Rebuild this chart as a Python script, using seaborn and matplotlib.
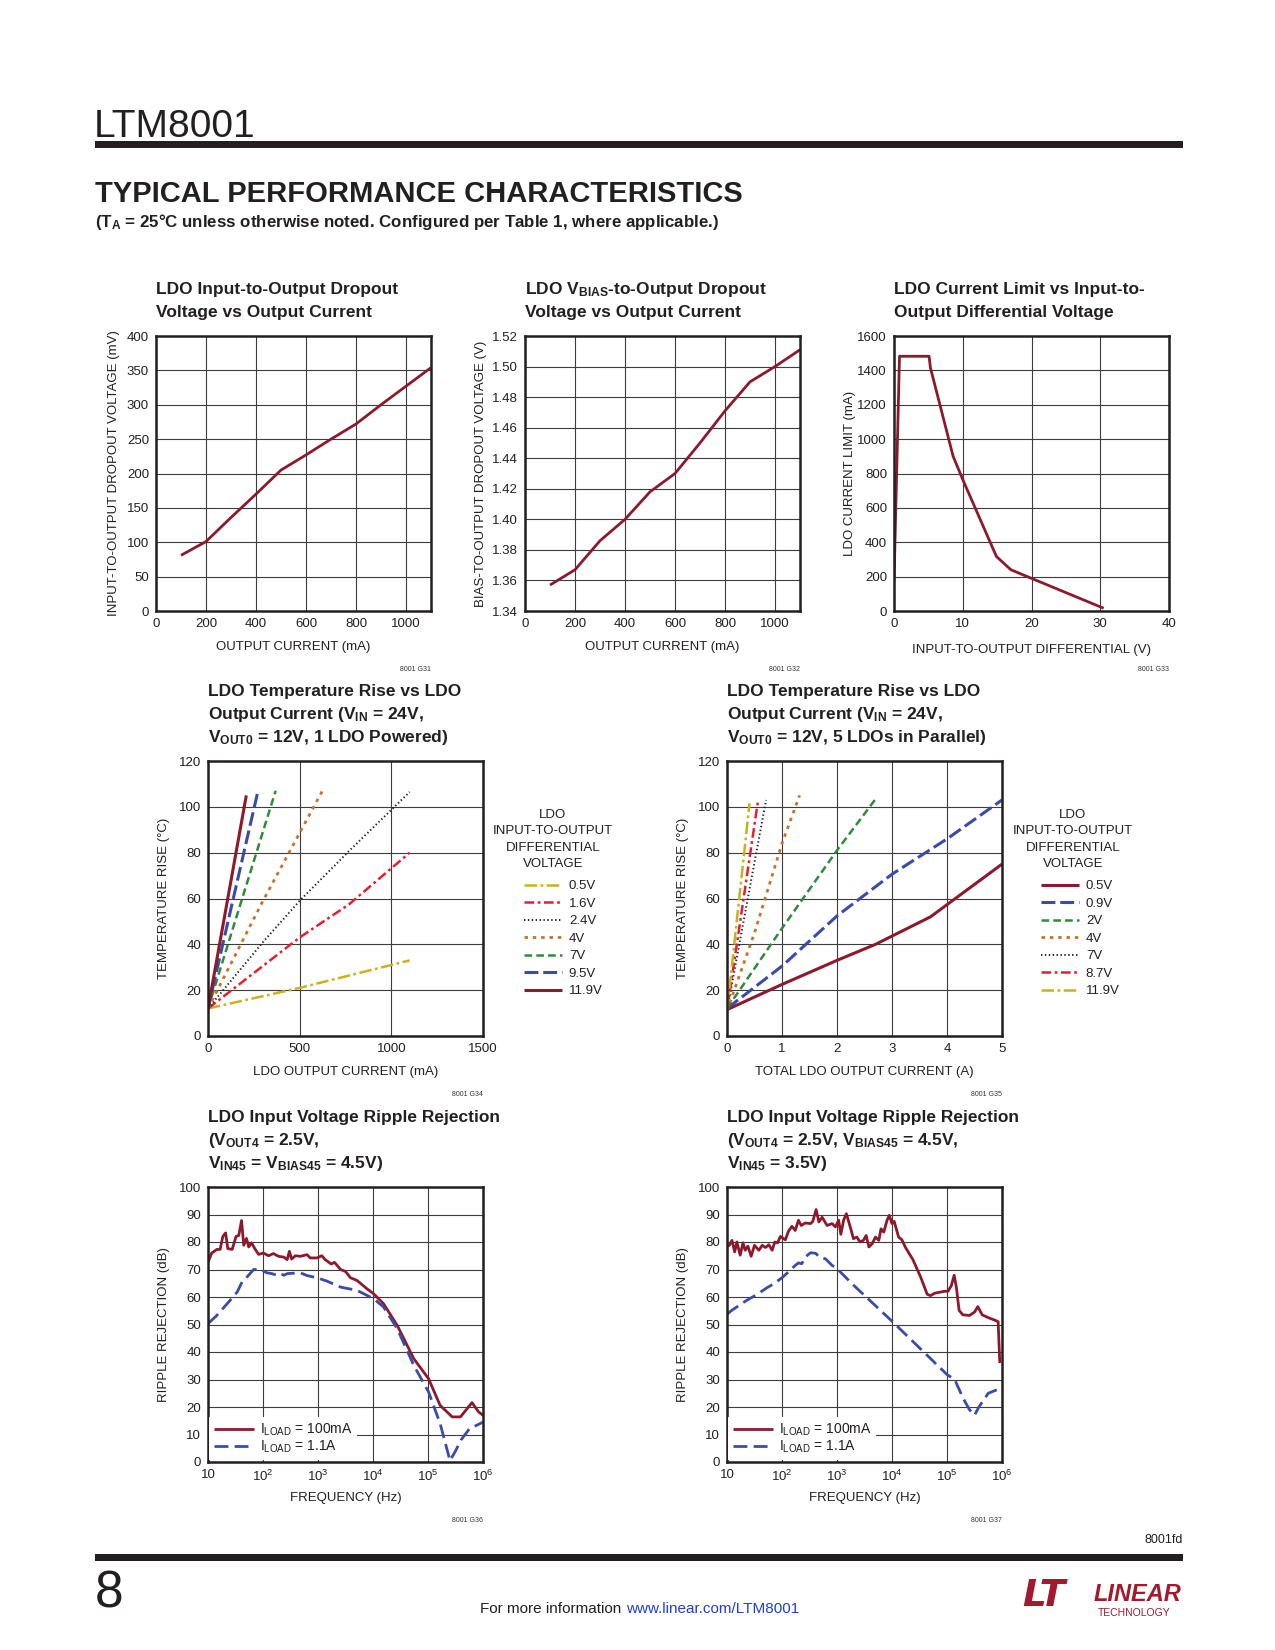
import matplotlib
matplotlib.use("Agg")
import matplotlib.pyplot as plt
import seaborn as sns
from matplotlib import font_manager as fm
from matplotlib.patches import Rectangle
from matplotlib.ticker import FixedLocator, NullLocator

# ---------------- data ----------------
dropout_current = [100, 200, 300, 400, 500, 600, 700, 800, 900, 1000, 1100]
dropout_mv = [81, 101, 136, 170, 205, 227, 250, 272, 300, 327, 354]

bias_current = [100, 200, 300, 400, 500, 600, 700, 800, 900, 1000, 1100]
bias_dropout_v = [1.357, 1.367, 1.386, 1.400, 1.418, 1.430, 1.450, 1.471, 1.490, 1.500, 1.511]

climit_vdiff = [0, 0.8, 5.1, 5.3, 8.6, 10, 14.9, 17, 20, 30.5]
climit_ma = [170, 1482, 1482, 1415, 900, 765, 317, 240, 190, 16]

# 1 LDO powered: output current (mA) vs temperature rise (C)
t1_labels = ["0.5V", "1.6V", "2.4V", "4V", "7V", "9.5V", "11.9V"]
t1_05_x = [0, 500, 1100];              t1_05_y = [12, 21, 33]
t1_16_x = [0, 500, 770, 1100];         t1_16_y = [12, 43, 57.5, 80]
t1_24_x = [0, 300, 500, 773, 1100];    t1_24_y = [12, 41, 59, 81, 106.5]
t1_4_x = [0, 300, 624];                t1_4_y = [12, 59, 107]
t1_7_x = [0, 369];                     t1_7_y = [12, 107]
t1_95_x = [0, 273];                    t1_95_y = [12, 107]
t1_119_x = [0, 209];                   t1_119_y = [12, 105]

# 5 LDOs in parallel: total output current (A) vs temperature rise (C)
t5_labels = ["0.5V", "0.9V", "2V", "4V", "7V", "8.7V", "11.9V"]
t5_05_x = [0, 1, 2, 2.7, 3.7, 5];      t5_05_y = [11.5, 22.5, 33, 40, 52, 75]
t5_09_x = [0, 1, 2, 3, 4, 5];          t5_09_y = [12, 30.5, 52.4, 70.6, 86, 103]
t5_2_x = [0, 1, 2, 2.72];              t5_2_y = [12, 47, 81, 104]
t5_4_x = [0, 0.5, 1, 1.32];            t5_4_y = [11, 45, 84, 105]
t5_7_x = [0, 0.71];                    t5_7_y = [11, 103]
t5_87_x = [0, 0.56];                   t5_87_y = [11, 102]
t5_119_x = [0, 0.41];                  t5_119_y = [11, 101.5]

# ripple rejection, chart G36
r1_100_f = [10, 11.7, 14.5, 16.6, 18.6, 20.9, 22.9, 27.5, 32.4, 36.3, 40.7, 44.7, 50.1, 55,
            61.7, 72.4, 83.2, 102, 126, 155, 191, 240, 275, 302, 331, 389, 479, 631, 724,
            955, 1175, 1349, 1738, 1995, 2570, 3162, 3890, 5129, 7762, 10230, 15490, 27540,
            54950, 102300, 166000, 275400, 389000, 631000, 831800, 1000000]
r1_100_db = [72.7, 76, 77.3, 77.3, 82, 83.3, 77.6, 77.3, 82, 82.4, 87.8, 78.8, 81.3, 78.2,
             79.7, 77.3, 75.5, 76, 75, 75.8, 74.8, 74.5, 73.6, 76.6, 73.8, 75, 74.8, 75.4,
             74.2, 74.2, 75, 73.6, 72, 72.6, 70, 69.3, 67, 66, 63, 61.2, 57.6, 49.7, 37.6,
             30.3, 20.6, 16.4, 16.4, 21.6, 18.2, 17]
r1_11_f = [10, 14.5, 22.4, 33.9, 41.7, 51.3, 67.6, 89.1, 117.5, 144.5, 177.8, 208.9, 239.9,
           275.4, 478.6, 631, 955, 1445, 2570, 5129, 10230, 15490, 27540, 54950, 102300,
           166000, 251200, 316200, 398100, 562300, 1000000]
r1_11_db = [50.3, 53.3, 57.6, 61.8, 65.5, 67.3, 70, 70, 68.8, 68.5, 67.9, 68.5, 67.9, 68.5,
            68.8, 67.8, 67, 65.8, 63.6, 62.4, 59.4, 56.4, 48.5, 35.2, 25.5, 14, 0.5, 4, 8,
            12, 14.5]

# ripple rejection, chart G37
r2_100_f = [10, 11, 12.3, 13.8, 15.1, 17.4, 19.5, 21.4, 24, 27.5, 31.6, 38, 43.7, 50.1, 57.5,
            66.1, 74.1, 83.2, 93.3, 114.8, 131.8, 151.4, 173.8, 199.5, 223.9, 263, 331, 363,
            417, 468, 537, 661, 813, 933, 1072, 1175, 1318, 1479, 1738, 1995, 2291, 2630,
            3020, 3388, 3802, 4365, 5012, 5754, 6310, 7079, 8128, 8913, 10000, 10960, 13180,
            15140, 17380, 23990, 33110, 43650, 50120, 60260, 91200, 104700, 120200, 134900,
            147900, 166000, 195000, 257000, 316000, 363100, 436500, 562300, 758600, 851100,
            912000]
r2_100_db = [78.4, 78.8, 80.6, 76.4, 80, 75.2, 79.7, 77, 78.5, 74.8, 78.8, 77, 78.8, 78, 79,
             77, 80, 79.7, 82, 80.8, 84, 85.7, 84.2, 87.9, 86, 86.9, 86.7, 87.5, 91.8, 87.3,
             89, 86, 86.7, 85.5, 87.9, 82.8, 87.9, 90.3, 85.5, 81.2, 81.8, 80, 80.6, 82.4,
             78.2, 79.4, 81.8, 80.6, 84.8, 83.6, 87.9, 89.7, 86.7, 87.5, 81.8, 80.8, 78.2,
             73.6, 67.3, 61, 60.5, 61.4, 62.1, 62.1, 64.2, 67.9, 63.6, 55.1, 53.5, 53.3, 54.5,
             56.5, 53.5, 52.5, 51.5, 51, 36]
r2_11_f = [10, 12.3, 15.1, 22.9, 35.5, 53.7, 70.8, 100, 141, 174, 200, 229, 263, 331, 407,
           501, 617, 813, 1000, 1950, 10000, 31620, 100000, 138000, 195000, 257000, 316000,
           380000, 562000, 1000000]
r2_11_db = [53.7, 55.2, 56.4, 58.8, 61, 63.4, 64.8, 67, 69.7, 71.5, 72.4, 72.1, 74.5, 76.1,
            75.9, 74.2, 73.9, 71.5, 70.3, 64.5, 51.2, 41.5, 31.8, 30, 23.3, 19, 17, 20, 25, 27]

ripple_labels = ["I$_{\\mathregular{LOAD}}$ = 100mA", "I$_{\\mathregular{LOAD}}$ = 1.1A"]
freq_ticks = [10, 100, 1000, 10000, 100000, 1000000]
freq_ticklabels = ["10", "$\\mathregular{10^{2}}$", "$\\mathregular{10^{3}}$",
                   "$\\mathregular{10^{4}}$", "$\\mathregular{10^{5}}$", "$\\mathregular{10^{6}}$"]

# ---------------- style ----------------
sns.set_style("white")
names = {f.name for f in fm.fontManager.ttflist}
NARROW = "Liberation Sans Narrow" if "Liberation Sans Narrow" in names else "Liberation Sans"
plt.rcParams["font.family"] = [NARROW, "DejaVu Sans"]
plt.rcParams["mathtext.fontset"] = "custom"
plt.rcParams["mathtext.rm"] = NARROW
plt.rcParams["mathtext.bf"] = NARROW + ":bold"
plt.rcParams["mathtext.it"] = NARROW + ":italic"
plt.rcParams["lines.scale_dashes"] = False
plt.rcParams["lines.solid_capstyle"] = "butt"
plt.rcParams["lines.dash_capstyle"] = "butt"

INK = "#231f20"
DRED = "#8c1a2c"
BLUE = "#3a4ca8"
GREEN = "#2f8a3c"
ORANGE = "#c07430"
BLACK = "#222222"
RED = "#e3202f"
YELLOW = "#c9b21f"

W, H = 1275, 1650
fig = plt.figure(figsize=(W / 100, H / 100), dpi=100)
fig.patch.set_facecolor("white")


def fx(x):
    return x / W


def fy(y):
    return 1 - y / H


def make_ax(left, top, w=275, h=275):
    ax = fig.add_axes([fx(left), fy(top + h), w / W, h / H])
    for s in ax.spines.values():
        s.set_linewidth(1.8)
        s.set_color(INK)
    ax.grid(True, color="#3c3c3c", linewidth=0.8)
    ax.set_axisbelow(True)
    ax.tick_params(length=0, labelsize=9.5, pad=5, colors=INK)
    return ax


def title(ax_left, ax_top, lines, gap=19, step=23.2):
    n = len(lines)
    for i, txt in enumerate(lines):
        base = ax_top - gap - (n - 1 - i) * step
        fig.text(fx(ax_left), fy(base), txt, fontsize=12.5, fontweight="bold",
                 color=INK, ha="left", va="baseline")


def code(ax_left, ax_bottom, text):
    fig.text(fx(ax_left + 275), fy(ax_bottom + 59), text, fontsize=5, color="#333333",
             ha="right", va="center")


def line(ax, x, y, color, lw, ls="-"):
    sns.lineplot(x=x, y=y, ax=ax, color=color, linewidth=lw, linestyle=ls,
                 estimator=None, sort=False, legend=False)


# ---------------- page header ----------------
fig.text(fx(94), fy(137), "LTM8001", fontsize=28, family=["Liberation Sans", "DejaVu Sans"],
         color=INK, ha="left", va="baseline")
fig.patches.append(Rectangle((fx(95), fy(148)), (1183 - 95) / W, 7 / H,
                             transform=fig.transFigure, color=INK, lw=0))
fig.text(fx(95), fy(202), "TYPICAL PERFORMANCE CHARACTERISTICS", fontsize=21,
         fontweight="heavy", color=INK, ha="left", va="baseline")
fig.text(fx(95), fy(227),
         "(T$_{\\mathbf{A}}$ = 25°C unless otherwise noted. Configured per Table 1, where applicable.)",
         fontsize=12.2, fontweight="bold", color=INK, ha="left", va="baseline")

# ---------------- chart G31 ----------------
ax1 = make_ax(156, 336)
line(ax1, dropout_current, dropout_mv, DRED, 2.0)
ax1.set_xlim(0, 1100)
ax1.set_ylim(0, 400)
ax1.xaxis.set_major_locator(FixedLocator([0, 200, 400, 600, 800, 1000]))
ax1.yaxis.set_major_locator(FixedLocator(list(range(0, 401, 50))))
ax1.set_xlabel("OUTPUT CURRENT (mA)", fontsize=9.5, color=INK, labelpad=8)
ax1.set_ylabel("INPUT-TO-OUTPUT DROPOUT VOLTAGE (mV)", fontsize=9.5, color=INK, labelpad=5)
title(156, 336, ["LDO Input-to-Output Dropout", "Voltage vs Output Current"])
code(156, 611, "8001 G31")

# ---------------- chart G32 ----------------
ax2 = make_ax(525, 336)
line(ax2, bias_current, bias_dropout_v, DRED, 2.0)
ax2.set_xlim(0, 1100)
ax2.set_ylim(1.34, 1.52)
ax2.xaxis.set_major_locator(FixedLocator([0, 200, 400, 600, 800, 1000]))
ax2.yaxis.set_major_locator(FixedLocator([1.34 + 0.02 * i for i in range(10)]))
ax2.yaxis.set_major_formatter(plt.FormatStrFormatter("%.2f"))
ax2.set_xlabel("OUTPUT CURRENT (mA)", fontsize=9.5, color=INK, labelpad=8)
ax2.set_ylabel("BIAS-TO-OUTPUT DROPOUT VOLTAGE (V)", fontsize=9.5, color=INK, labelpad=4)
title(525, 336, ["LDO V$_{\\mathbf{BIAS}}$-to-Output Dropout", "Voltage vs Output Current"])
code(525, 611, "8001 G32")

# ---------------- chart G33 ----------------
ax3 = make_ax(894, 336)
line(ax3, climit_vdiff, climit_ma, DRED, 2.0)
ax3.set_xlim(0, 40)
ax3.set_ylim(0, 1600)
ax3.xaxis.set_major_locator(FixedLocator([0, 10, 20, 30, 40]))
ax3.yaxis.set_major_locator(FixedLocator(list(range(0, 1601, 200))))
ax3.set_xlabel("INPUT-TO-OUTPUT DIFFERENTIAL (V)", fontsize=9.5, color=INK, labelpad=10)
ax3.set_ylabel("LDO CURRENT LIMIT (mA)", fontsize=9.5, color=INK, labelpad=1)
title(894, 336, ["LDO Current Limit vs Input-to-", "Output Differential Voltage"])
code(894, 611, "8001 G33")

# line styles
S_YEL = (0, (9, 2.5, 2, 2.5))
S_RED = (0, (7, 2.5, 2, 2.5))
S_BLK = (0, (1, 1.8))
S_ORG = (0, (2.5, 3.5))
S_GRN = (0, (5.5, 3))
S_BLU = (0, (10, 3.5))

LEG_TITLE = "LDO\nINPUT-TO-OUTPUT\nDIFFERENTIAL\nVOLTAGE"


def temp_legend(ax, labels, title_cx, title_top, handle_left, entries_top):
    fig.text(fx(title_cx), fy(title_top), LEG_TITLE, fontsize=9.5, color=INK,
             ha="center", va="top", multialignment="center", linespacing=1.5)
    handles = list(ax.get_lines())
    leg = ax.legend(handles, labels, loc="upper left",
                    bbox_to_anchor=(fx(handle_left), fy(entries_top)),
                    bbox_transform=fig.transFigure, frameon=False,
                    fontsize=9.5, handlelength=2.9, handletextpad=0.5,
                    labelspacing=0.4, borderpad=0, borderaxespad=0)
    for t in leg.get_texts():
        t.set_color(INK)


# ---------------- chart G34 ----------------
ax4 = make_ax(208, 761)
line(ax4, t1_05_x, t1_05_y, YELLOW, 1.8, S_YEL)
line(ax4, t1_16_x, t1_16_y, RED, 1.8, S_RED)
line(ax4, t1_24_x, t1_24_y, BLACK, 1.4, S_BLK)
line(ax4, t1_4_x, t1_4_y, ORANGE, 2.0, S_ORG)
line(ax4, t1_7_x, t1_7_y, GREEN, 1.8, S_GRN)
line(ax4, t1_95_x, t1_95_y, BLUE, 2.2, S_BLU)
line(ax4, t1_119_x, t1_119_y, DRED, 2.2)
ax4.set_xlim(0, 1500)
ax4.set_ylim(0, 120)
ax4.xaxis.set_major_locator(FixedLocator([0, 500, 1000, 1500]))
ax4.yaxis.set_major_locator(FixedLocator(list(range(0, 121, 20))))
ax4.set_xlabel("LDO OUTPUT CURRENT (mA)", fontsize=9.5, color=INK, labelpad=8)
ax4.set_ylabel("TEMPERATURE RISE (°C)", fontsize=9.5, color=INK, labelpad=6)
temp_legend(ax4, t1_labels, 553, 809, 524, 880)
title(208, 761, ["LDO Temperature Rise vs LDO",
                 "Output Current (V$_{\\mathbf{IN}}$ = 24V,",
                 "V$_{\\mathbf{OUT0}}$ = 12V, 1 LDO Powered)"])
code(208, 1036, "8001 G34")

# ---------------- chart G35 ----------------
ax5 = make_ax(727, 761)
line(ax5, t5_05_x, t5_05_y, DRED, 2.2)
line(ax5, t5_09_x, t5_09_y, BLUE, 2.2, S_BLU)
line(ax5, t5_2_x, t5_2_y, GREEN, 1.8, S_GRN)
line(ax5, t5_4_x, t5_4_y, ORANGE, 2.0, S_ORG)
line(ax5, t5_7_x, t5_7_y, BLACK, 1.4, S_BLK)
line(ax5, t5_87_x, t5_87_y, RED, 1.8, S_RED)
line(ax5, t5_119_x, t5_119_y, YELLOW, 1.8, S_YEL)
ax5.set_xlim(0, 5)
ax5.set_ylim(0, 120)
ax5.xaxis.set_major_locator(FixedLocator([0, 1, 2, 3, 4, 5]))
ax5.yaxis.set_major_locator(FixedLocator(list(range(0, 121, 20))))
ax5.set_xlabel("TOTAL LDO OUTPUT CURRENT (A)", fontsize=9.5, color=INK, labelpad=8)
ax5.set_ylabel("TEMPERATURE RISE (°C)", fontsize=9.5, color=INK, labelpad=6)
temp_legend(ax5, t5_labels, 1073, 809, 1041, 880)
title(727, 761, ["LDO Temperature Rise vs LDO",
                 "Output Current (V$_{\\mathbf{IN}}$ = 24V,",
                 "V$_{\\mathbf{OUT0}}$ = 12V, 5 LDOs in Parallel)"])
code(727, 1036, "8001 G35")


# ---------------- ripple charts ----------------
def ripple(left, f100, d100, f11, d11, ttl, cd):
    ax = make_ax(left, 1187)
    ax.set_xscale("log")
    line(ax, f100, d100, DRED, 2.0)
    line(ax, f11, d11, BLUE, 2.0, (0, (10, 4.5)))
    ax.set_xlim(10, 1e6)
    ax.set_ylim(0, 100)
    ax.xaxis.set_major_locator(FixedLocator(freq_ticks))
    ax.xaxis.set_minor_locator(NullLocator())
    ax.set_xticklabels(freq_ticklabels)
    ax.yaxis.set_major_locator(FixedLocator(list(range(0, 101, 10))))
    ax.set_xlabel("FREQUENCY (Hz)", fontsize=9.5, color=INK, labelpad=6)
    ax.set_ylabel("RIPPLE REJECTION (dB)", fontsize=9.5, color=INK, labelpad=6)
    leg = ax.legend(list(ax.get_lines()), ripple_labels, loc="lower left",
                    bbox_to_anchor=(0.004, 0.006), frameon=True, fancybox=False,
                    framealpha=1, edgecolor="white", facecolor="white", fontsize=10,
                    handlelength=2.9, handletextpad=0.4, labelspacing=0.05,
                    borderpad=0.35, borderaxespad=0)
    leg.get_frame().set_linewidth(0)
    for t in leg.get_texts():
        t.set_color(INK)
    title(left, 1187, ttl)
    code(left, 1462, cd)
    return ax


ripple(208, r1_100_f, r1_100_db, r1_11_f, r1_11_db,
       ["LDO Input Voltage Ripple Rejection",
        "(V$_{\\mathbf{OUT4}}$ = 2.5V,",
        "V$_{\\mathbf{IN45}}$ = V$_{\\mathbf{BIAS45}}$ = 4.5V)"], "8001 G36")
ripple(727, r2_100_f, r2_100_db, r2_11_f, r2_11_db,
       ["LDO Input Voltage Ripple Rejection",
        "(V$_{\\mathbf{OUT4}}$ = 2.5V, V$_{\\mathbf{BIAS45}}$ = 4.5V,",
        "V$_{\\mathbf{IN45}}$ = 3.5V)"], "8001 G37")

# ---------------- footer ----------------
fig.text(fx(1183), fy(1540), "8001fd", fontsize=9, color=INK, ha="right", va="center")
fig.patches.append(Rectangle((fx(95), fy(1561)), (1183 - 95) / W, 7 / H,
                             transform=fig.transFigure, color=INK, lw=0))
fig.text(fx(95), fy(1607), "8", fontsize=37, family=["Liberation Sans", "DejaVu Sans"],
         color=INK, ha="left", va="baseline")
fig.text(fx(626), fy(1609), "For more information ", fontsize=11, color=INK,
         ha="right", va="center")
fig.text(fx(626), fy(1609), "www.linear.com/LTM8001", fontsize=11, color="#1f3fd6",
         ha="left", va="center")
LOGO = "#a3192e"
fig.text(fx(1022), fy(1606), "LT", fontsize=27, fontweight="bold", style="italic",
         color=LOGO, ha="left", va="baseline", family=["DejaVu Sans"])
fig.text(fx(1094), fy(1601), "LINEAR", fontsize=17, fontweight="bold", style="italic",
         color=LOGO, ha="left", va="baseline")
fig.text(fx(1098), fy(1616), "TECHNOLOGY", fontsize=7.5, color=LOGO, ha="left",
         va="baseline")

fig.savefig("out.png", dpi=100, facecolor="white")
